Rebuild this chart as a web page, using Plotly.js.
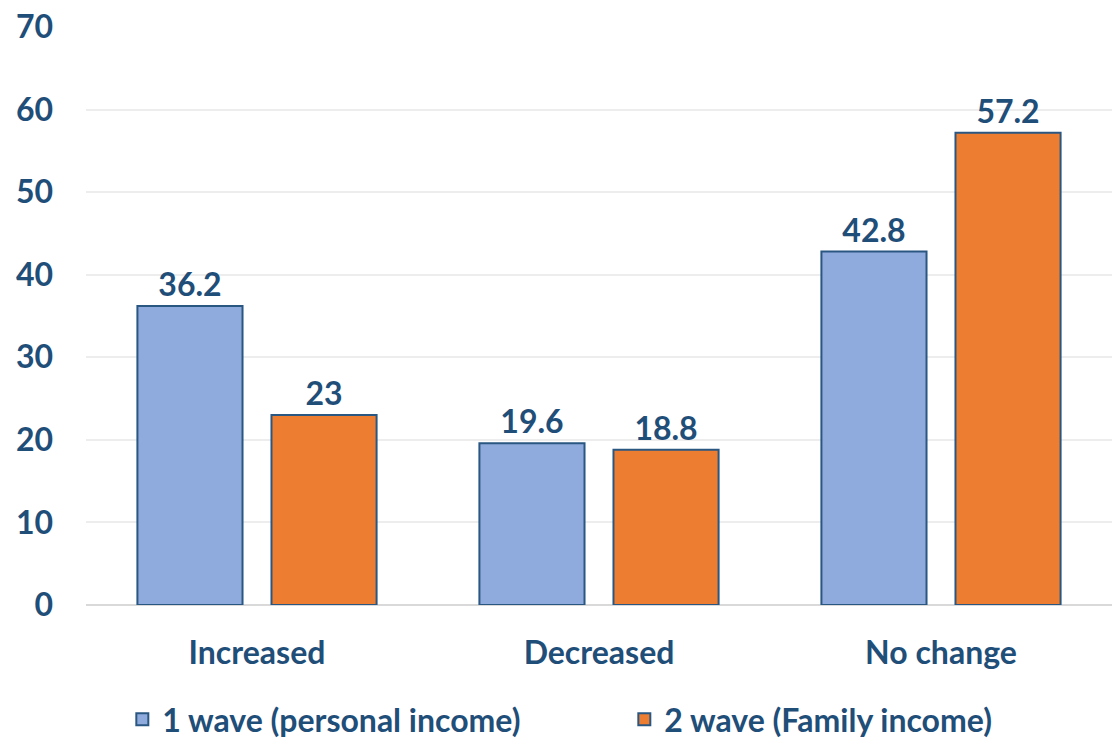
<!DOCTYPE html>
<html><head><meta charset="utf-8">
<script src="https://cdn.plot.ly/plotly-3.0.1.min.js"></script>
<style>body{margin:0}#chart{width:1112px;height:738px}</style>
</head><body><div id="chart"></div>
<script>
const categories = ["Increased", "Decreased", "No change"];
const wave1 = [36.2, 19.6, 42.8];
const wave2 = [23, 18.8, 57.2];
const seriesNames = ["1 wave (personal income)", "2 wave (Family income)"];
const txtColor = "#1F4E79";
const fam = "Lato, 'Open Sans', sans-serif";
const bold = (s) => ({family: fam, size: s, color: txtColor, weight: "bold"});
const mk = (y, name, color) => ({
  type: "bar", x: categories, y: y, name: name,
  marker: {color: color, line: {color: "#2A5782", width: 2}},
  text: y.map(v => String(v)), textposition: "outside", cliponaxis: false,
  textfont: bold(32)
});
const data = [mk(wave1, seriesNames[0], "#8FAADC"), mk(wave2, seriesNames[1], "#ED7D31")];
const layout = {
  width: 1112, height: 738,
  margin: {l: 86, r: 0, t: 27, b: 133, autoexpand: false},
  paper_bgcolor: "#fff", plot_bgcolor: "#fff",
  font: bold(32),
  bargap: 0.216, bargroupgap: 0.216,
  showlegend: true,
  legend: {orientation: "h", x: 0.11, xanchor: "left", xref: "container", y: 0.025, yanchor: "middle", yref: "container",
    font: bold(32), entrywidth: 457, entrywidthmode: "pixels", traceorder: "normal", itemwidth: 30},
  xaxis: {tickfont: bold(32), showline: false, ticks: "", ticklabelstandoff: 26, automargin: false},
  yaxis: {range: [0, 70], dtick: 10, gridcolor: "#EDEDED", gridwidth: 1.5, zeroline: true, zerolinecolor: "#D9D9D9", zerolinewidth: 2,
    tickfont: bold(32), ticks: "", ticklabelstandoff: 32, automargin: false}
};
Plotly.newPlot("chart", data, layout, {displayModeBar: false});
</script></body></html>
